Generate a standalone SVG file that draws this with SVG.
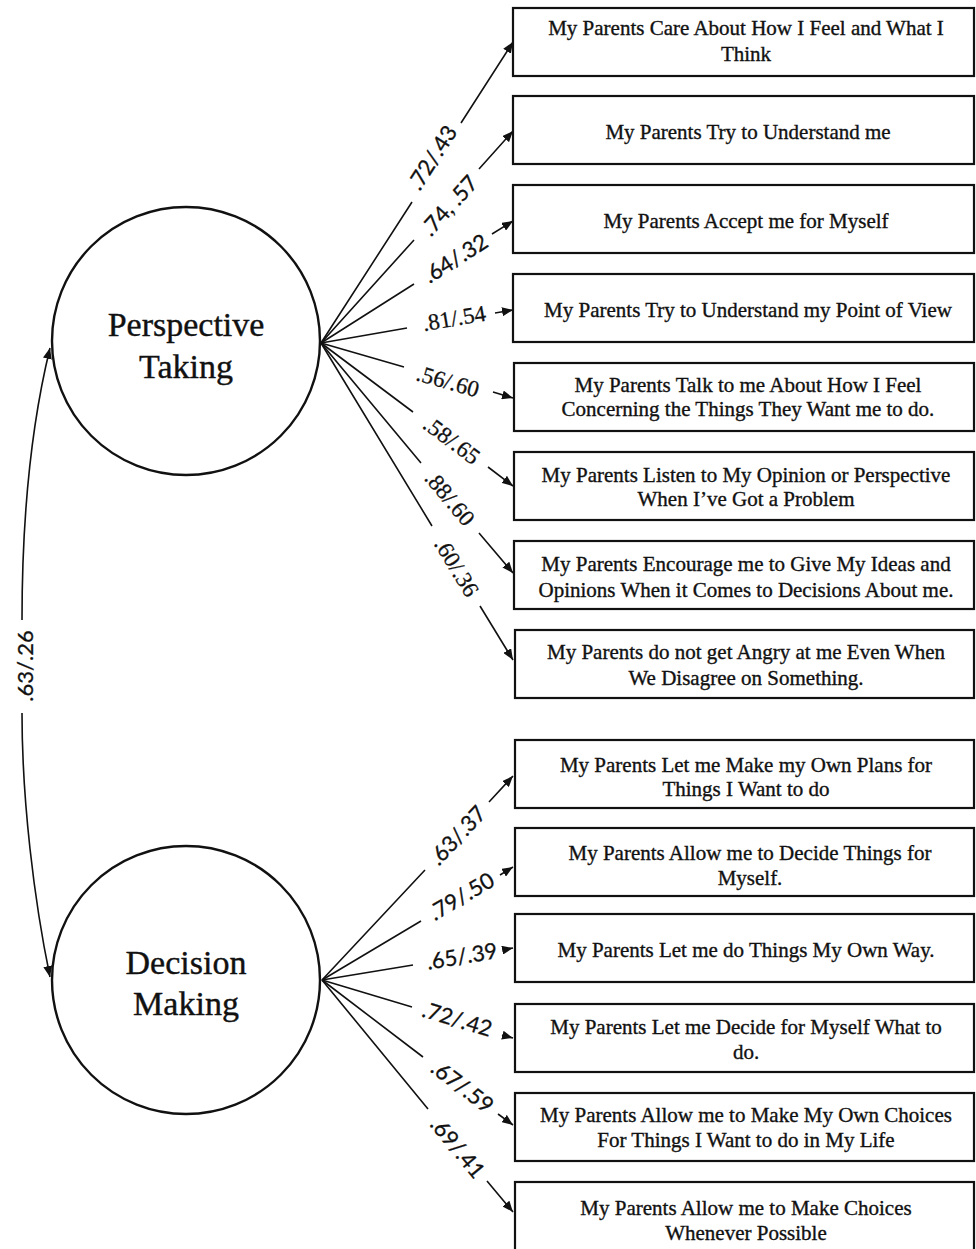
<svg xmlns="http://www.w3.org/2000/svg" width="976" height="1249" viewBox="0 0 976 1249">
<defs>
<marker id="ah" markerUnits="userSpaceOnUse" markerWidth="11" markerHeight="9" refX="11" refY="4.5" orient="auto">
<path d="M0,0 L11,4.5 L0,9 z" fill="#111"/>
</marker>
<marker id="ah2" markerUnits="userSpaceOnUse" markerWidth="11" markerHeight="9" refX="11" refY="4.5" orient="auto-start-reverse">
<path d="M0,0 L11,4.5 L0,9 z" fill="#111"/>
</marker>
<style>
.box{fill:#fff;stroke:#111;stroke-width:2.2}
.bt{font-family:"Liberation Serif","Times New Roman",serif;font-size:21px;text-anchor:middle;fill:#111;stroke:#111;stroke-width:0.35}
.ct{font-family:"Liberation Serif","Times New Roman",serif;font-size:34px;text-anchor:middle;fill:#111;stroke:#111;stroke-width:0.4}
.circ{fill:#fff;stroke:#111;stroke-width:2.4}
.conn{fill:none;stroke:#111;stroke-width:1.6;marker-end:url(#ah)}
.cov{fill:none;stroke:#111;stroke-width:1.6}
.ls{font-family:Lato,"Open Sans",sans-serif;font-size:22px;text-anchor:middle;fill:#111;stroke:#111;stroke-width:0.3}
.lr{font-family:"Liberation Serif","Times New Roman",serif;font-size:23px;text-anchor:middle;fill:#111;stroke:#111;stroke-width:0.3}
</style>
</defs>
<rect width="976" height="1249" fill="#fff"/>

<g id="connectors">
<path class="cov" d="M50,348 C30,430 22,520 22,620" marker-start="url(#ah2)"/>
<path class="cov" d="M22,713 C22,800 34,900 50,977" marker-end="url(#ah2)"/>
<text class="ls" transform="translate(26,666) rotate(-90)" y="7">.63/.26</text>

<path class="conn" d="M321,343 L412,202 M461,123 L513,42"/>
<path class="conn" d="M321,343 L414,240 M479,169 L513,131"/>
<path class="conn" d="M321,343 L414,284 M492,234 L513,221"/>
<path class="conn" d="M321,343 L407,328 M495,313 L513,310"/>
<path class="conn" d="M321,343 L404,367 M493,392 L513,398"/>
<path class="conn" d="M321,343 L413,412 M488,467 L513,486"/>
<path class="conn" d="M321,343 L421,463 M479,533 L513,573"/>
<path class="conn" d="M321,343 L432,526 M480,606 L513,660"/>

<text class="ls" transform="translate(433,158) rotate(-57.5)" y="7">.72/.43</text>
<text class="ls" transform="translate(450,206) rotate(-47.8)" y="7">.74, .57</text>
<text class="ls" transform="translate(456,259) rotate(-32.4)" y="7">.64/.32</text>
<text class="lr" transform="translate(454,318) rotate(-9.75)" y="8">.81/.54</text>
<text class="lr" transform="translate(448,381) rotate(16)" y="8">.56/.60</text>
<text class="lr" transform="translate(452,440) rotate(36.7)" y="8">.58/.65</text>
<text class="lr" transform="translate(450,498) rotate(50.1)" y="8">.88/.60</text>
<text class="lr" transform="translate(457,567) rotate(58.8)" y="8">.60/.36</text>

<path class="conn" d="M322,980 L425,870 M489,802 L513,776"/>
<path class="conn" d="M322,980 L421,921 M500,875 L513,867"/>
<path class="conn" d="M322,980 L413,965 M503,950 L513,948"/>
<path class="conn" d="M322,980 L412,1007 M502,1035 L513,1038"/>
<path class="conn" d="M322,980 L423,1057 M498,1114 L513,1125"/>
<path class="conn" d="M322,980 L428,1109 M487,1181 L513,1212"/>

<text class="ls" transform="translate(458,836) rotate(-46.9)" y="7">.63/.37</text>
<text class="ls" transform="translate(462,897) rotate(-30.6)" y="7">.79/.50</text>
<text class="ls" transform="translate(462,957) rotate(-9.5)" y="7">.65/.39</text>
<text class="ls" transform="translate(457,1020) rotate(16.9)" y="7">.72/.42</text>
<text class="ls" transform="translate(462,1087) rotate(37.2)" y="7">.67/.59</text>
<text class="ls" transform="translate(457,1148) rotate(50.5)" y="7">.69/.41</text>
</g>

<g id="perspective-taking">
<circle class="circ" cx="186" cy="341" r="134"/>
<text class="ct" x="186" y="336">Perspective</text>
<text class="ct" x="186" y="378">Taking</text>
</g>

<g id="decision-making">
<circle class="circ" cx="186" cy="980" r="134"/>
<text class="ct" x="186" y="974">Decision</text>
<text class="ct" x="186" y="1015">Making</text>
</g>

<g id="pt1"><rect class="box" x="513" y="8" width="461" height="68"/>
<text class="bt" x="746" y="35">My Parents Care About How I Feel and What I</text>
<text class="bt" x="746" y="61">Think</text></g>

<g id="pt2"><rect class="box" x="513" y="96" width="461" height="68"/>
<text class="bt" x="748" y="139">My Parents Try to Understand me</text></g>

<g id="pt3"><rect class="box" x="513" y="185" width="461" height="68"/>
<text class="bt" x="746" y="228">My Parents Accept me for Myself</text></g>

<g id="pt4"><rect class="box" x="513" y="274" width="461" height="68"/>
<text class="bt" x="748" y="317">My Parents Try to Understand my Point of View</text></g>

<g id="pt5"><rect class="box" x="514" y="363" width="460" height="68"/>
<text class="bt" x="748" y="392">My Parents Talk to me About How I Feel</text>
<text class="bt" x="748" y="416">Concerning the Things They Want me to do.</text></g>

<g id="pt6"><rect class="box" x="514" y="452" width="460" height="68"/>
<text class="bt" x="746" y="482">My Parents Listen to My Opinion or Perspective</text>
<text class="bt" x="746" y="506">When I’ve  Got a Problem</text></g>

<g id="pt7"><rect class="box" x="514" y="541" width="460" height="68"/>
<text class="bt" x="746" y="571">My Parents Encourage me to Give My Ideas and</text>
<text class="bt" x="746" y="597">Opinions When it Comes to Decisions About me.</text></g>

<g id="pt8"><rect class="box" x="515" y="630" width="459" height="68"/>
<text class="bt" x="746" y="659">My Parents do not get Angry at me Even When</text>
<text class="bt" x="746" y="685">We Disagree on Something.</text></g>

<g id="dm1"><rect class="box" x="515" y="740" width="459" height="68"/>
<text class="bt" x="746" y="772">My Parents Let me Make my Own Plans for</text>
<text class="bt" x="746" y="796">Things I Want to do</text></g>

<g id="dm2"><rect class="box" x="515" y="828" width="459" height="68"/>
<text class="bt" x="750" y="860">My Parents Allow me to Decide Things for</text>
<text class="bt" x="750" y="885">Myself.</text></g>

<g id="dm3"><rect class="box" x="515" y="914" width="459" height="68"/>
<text class="bt" x="746" y="957">My Parents Let me do Things My Own Way.</text></g>

<g id="dm4"><rect class="box" x="515" y="1004" width="459" height="68"/>
<text class="bt" x="746" y="1034">My Parents Let me Decide for Myself What to</text>
<text class="bt" x="746" y="1059">do.</text></g>

<g id="dm5"><rect class="box" x="515" y="1093" width="459" height="68"/>
<text class="bt" x="746" y="1122">My Parents Allow me to Make My Own Choices</text>
<text class="bt" x="746" y="1147">For Things I Want to do in My Life</text></g>

<g id="dm6"><rect class="box" x="515" y="1182" width="459" height="70"/>
<text class="bt" x="746" y="1215">My Parents Allow me to Make Choices</text>
<text class="bt" x="746" y="1240">Whenever Possible</text></g>
</svg>
